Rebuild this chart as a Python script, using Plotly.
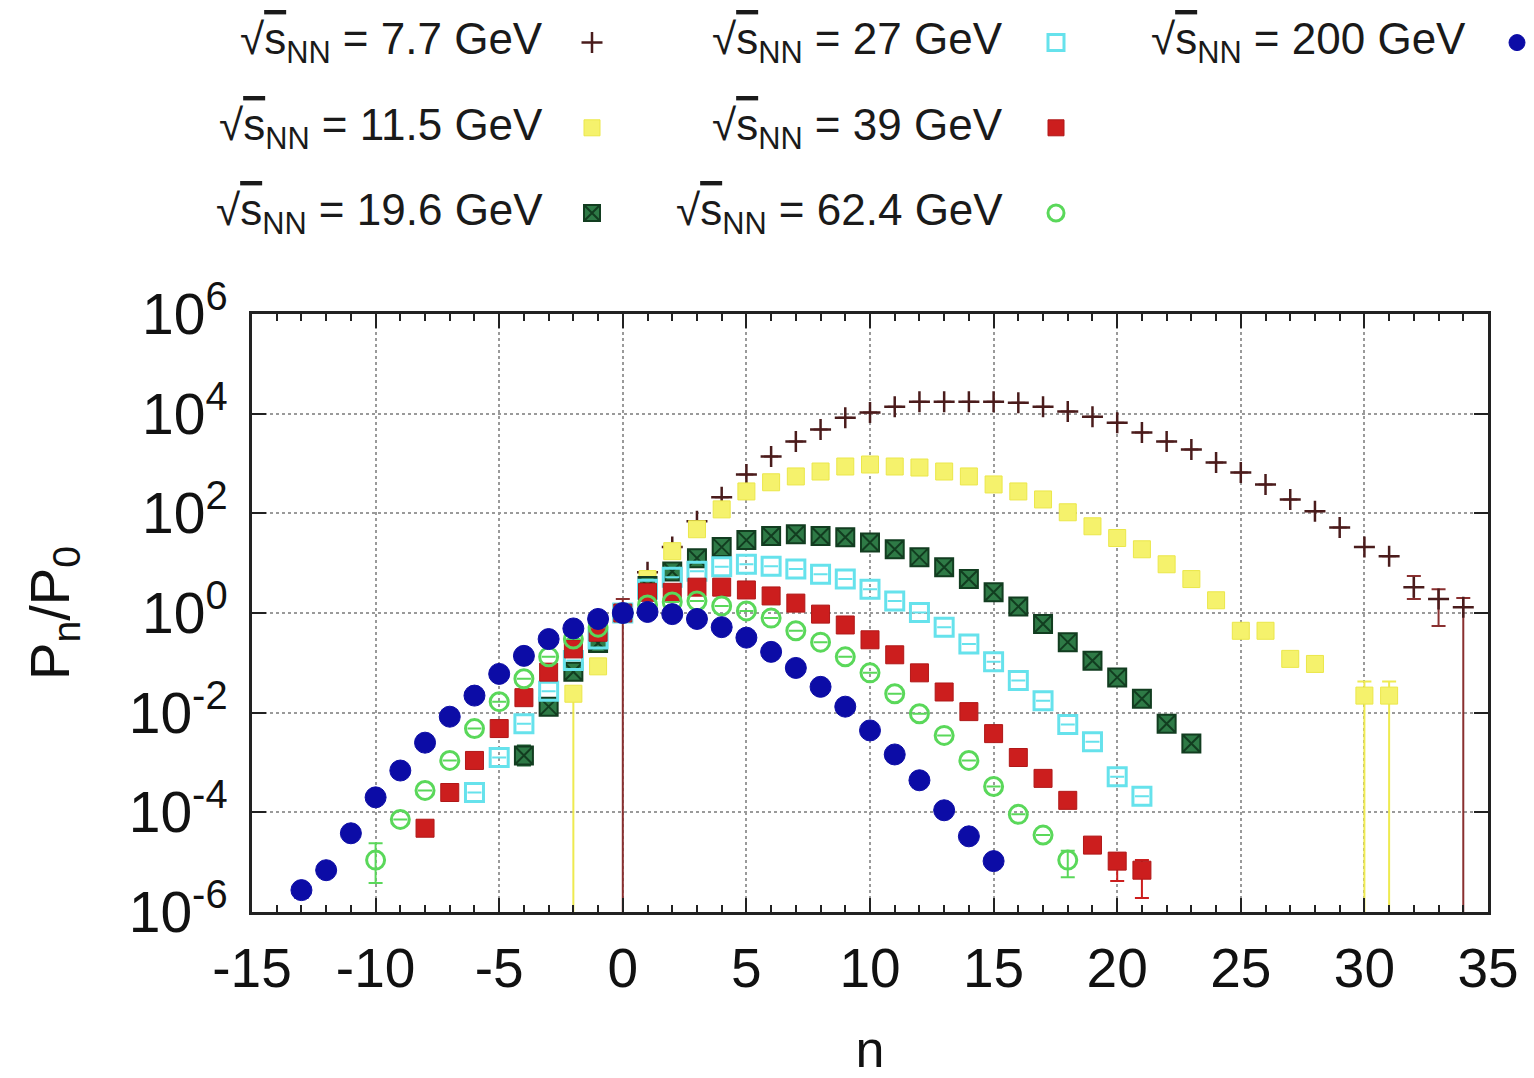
import plotly.graph_objects as go

# ---- data: P_n / P_0 versus net-proton number n, per collision energy ----
N_7P7 = list(range(0, 35))
P_7P7 = [1.0, 6.6, 21, 69, 210, 600, 1380, 2750, 4800, 8300, 10500, 13800, 17400, 17400,
         17400, 17400, 16600, 13800, 11000, 8700, 6600, 4200, 2750, 1900, 1050, 660, 380,
         190, 110, 52, 21, 13.8, 3.3, 1.9, 1.3]
# error bounds (low, high) where visible; low = 0 means unbounded below
ERR_7P7 = {0: (0.0, 1.9), 32: (1.9, 5.5), 33: (0.55, 3.0), 34: (0.0, 2.0)}

N_11P5 = list(range(-2, 29)) + [30, 31]
P_11P5 = [0.024, 0.085, 1.0, 4.8, 17.4, 48, 120, 275, 420, 550, 690, 870, 955, 870, 830,
          690, 550, 380, 275, 190, 105, 55, 32, 19, 9.5, 4.8, 1.8, 0.44, 0.44, 0.12, 0.095,
          0.022, 0.022]
ERR_11P5 = {-2: (0.0, 0.030), 30: (0.0, 0.042), 31: (0.0, 0.042)}

N_19P6 = list(range(-4, 24))
P_19P6 = [1.38e-3, 0.0132, 0.066, 0.25, 1.0, 3.5, 6.8, 12.6, 21, 29, 35, 38, 35, 33, 26,
          19, 13.2, 8.3, 4.8, 2.6, 1.35, 0.60, 0.26, 0.11, 0.051, 0.019, 6.0e-3, 2.4e-3]
ERR_19P6 = {-4: (0.87e-3, 2.2e-3)}

N_27 = list(range(-6, 22))
P_27 = [2.5e-4, 1.26e-3, 6.0e-3, 0.027, 0.112, 0.30, 1.0, 3.0, 5.2, 6.9, 8.5, 9.5, 8.7,
        7.6, 6.0, 4.8, 3.0, 1.74, 1.02, 0.52, 0.24, 0.105, 0.044, 0.0174, 5.8e-3, 2.6e-3,
        5.2e-4, 2.1e-4]
ERR_27 = {}

N_39 = list(range(-8, 22))
P_39 = [4.8e-5, 2.5e-4, 1.1e-3, 4.8e-3, 0.020, 0.065, 0.19, 0.41, 1.0, 2.6, 2.6, 3.3, 3.3,
        2.9, 2.2, 1.58, 0.95, 0.575, 0.29, 0.145, 0.063, 0.026, 0.0105, 3.8e-3, 1.26e-3,
        4.8e-4, 1.74e-4, 2.2e-5, 1.05e-5, 6.9e-6]
ERR_39 = {20: (4.2e-6, 1.5e-5), 21: (1.9e-6, 1.1e-5)}

N_62P4 = list(range(-10, 19))
P_62P4 = [1.1e-5, 7.2e-5, 2.75e-4, 1.1e-3, 4.8e-3, 0.0166, 0.048, 0.132, 0.30, 0.52, 1.0,
          1.45, 1.66, 1.74, 1.38, 1.10, 0.79, 0.44, 0.26, 0.132, 0.063, 0.024, 9.5e-3,
          3.5e-3, 1.1e-3, 3.3e-4, 9.1e-5, 3.5e-5, 1.1e-5]
ERR_62P4 = {-10: (3.8e-6, 2.4e-5), 18: (5.0e-6, 1.7e-5)}

N_200 = list(range(-13, 16))
P_200 = [2.75e-6, 6.9e-6, 3.8e-5, 2.0e-4, 6.9e-4, 2.5e-3, 8.3e-3, 0.022, 0.060, 0.138, 0.30,
         0.49, 0.76, 1.0, 1.05, 0.95, 0.76, 0.52, 0.32, 0.166, 0.079, 0.033, 0.0132, 4.4e-3,
         1.45e-3, 4.4e-4, 1.1e-4, 3.3e-5, 1.05e-5]
ERR_200 = {-13: (1.9e-6, 3.6e-6)}

ENERGIES = ["7.7", "11.5", "19.6", "27", "39", "62.4", "200"]
SERIES_N = [N_7P7, N_11P5, N_19P6, N_27, N_39, N_62P4, N_200]
SERIES_P = [P_7P7, P_11P5, P_19P6, P_27, P_39, P_62P4, P_200]
SERIES_ERR = [ERR_7P7, ERR_11P5, ERR_19P6, ERR_27, ERR_39, ERR_62P4, ERR_200]

X_TICKS = [-15, -10, -5, 0, 5, 10, 15, 20, 25, 30, 35]
Y_TICK_EXP = [-6, -4, -2, 0, 2, 4, 6]

# ---- styling ----
FONT = "Liberation Sans"
STYLES = [
    dict(symbol="cross-thin", color="#4a1c1c", line=dict(color="#4a1c1c", width=2.5), size=15, err="#8a3030"),
    dict(symbol="square", color="#f5f26c", line=dict(color="#ebe74a", width=1), size=17, err="#eeea50"),
    dict(symbol="square-x", color="#2e7a46", line=dict(color="#123d20", width=2), size=18, err="#1e5e32"),
    dict(symbol="square-open", color="#66e2ec", line=dict(color="#66e2ec", width=3), size=18, err="#66e2ec"),
    dict(symbol="square", color="#cc1e1e", line=dict(color="#b01818", width=1), size=18, err="#cc1e1e"),
    dict(symbol="circle-open", color="#5ad85a", line=dict(color="#5ad85a", width=3), size=18, err="#5ad85a"),
    dict(symbol="circle", color="#0c0ca6", line=dict(color="#0c0ca6", width=1), size=21, err="#0c0ca6"),
]
LEGEND_OF = ["legend", "legend", "legend", "legend2", "legend2", "legend2", "legend3"]

# plot area in pixels (for placing the key around it)
L, R, T, B = 252, 1488, 314, 912
W, H = 1534, 1078


def px_x(p):
    return (p - L) / (R - L)


def px_y(p):
    return (B - p) / (B - T)


fig = go.Figure()
for energy, ns, ps, errs, st, lg in zip(ENERGIES, SERIES_N, SERIES_P, SERIES_ERR, STYLES, LEGEND_OF):
    plus, minus = [], []
    for n, p in zip(ns, ps):
        if n in errs:
            lo, hi = errs[n]
            plus.append(hi - p)
            minus.append(p - lo)
        else:
            plus.append(None)
            minus.append(None)
    fig.add_trace(go.Scatter(
        x=ns, y=ps, mode="markers", name=" ",
        legend=lg, legendgroup=energy,
        hovertext=f"√s_NN = {energy} GeV",
        marker=dict(symbol=st["symbol"], size=st["size"], color=st["color"], line=st["line"]),
        error_y=dict(type="data", array=plus, arrayminus=minus, symmetric=False,
                     color=st["err"], thickness=2, width=7),
    ))

# key labels (right-aligned, sample glyph to the right of each)
KEY_TEXT_RIGHT = [545, 545, 545, 1005, 1005, 1005, 1468]
KEY_ROW_Y = [42, 128, 213, 42, 128, 213, 42]
for energy, xr, yr in zip(ENERGIES, KEY_TEXT_RIGHT, KEY_ROW_Y):
    fig.add_annotation(
        xref="paper", yref="paper", x=px_x(xr), y=px_y(yr),
        xanchor="right", yanchor="middle", showarrow=False,
        text=f"√<span style='text-decoration:overline'>s</span><sub>NN</sub> = {energy} GeV",
        font=dict(family=FONT, size=44, color="#1a1a1a"),
    )

legend_common = dict(
    orientation="v", bgcolor="rgba(0,0,0,0)", borderwidth=0,
    font=dict(family=FONT, size=14), tracegroupgap=64,
    xref="paper", yref="paper", xanchor="left", yanchor="top", itemwidth=30,
)

axis_common = dict(
    showline=True, linewidth=3, linecolor="#222", mirror="allticks",
    ticks="inside", ticklen=14, tickwidth=2, tickcolor="#222",
    showgrid=True, gridcolor="#9a9a9a", griddash="dot", gridwidth=1.5,
    zeroline=False,
)

fig.update_layout(
    width=W, height=H,
    margin=dict(l=L, r=W - R, t=T, b=H - B, autoexpand=False),
    paper_bgcolor="white", plot_bgcolor="white",
    font=dict(family=FONT, color="#111"),
    legend=dict(legend_common, x=px_x(572), y=px_y(27)),
    legend2=dict(legend_common, x=px_x(1036), y=px_y(27)),
    legend3=dict(legend_common, x=px_x(1497), y=px_y(27)),
    xaxis=dict(axis_common, range=[-15, 35], tickvals=X_TICKS,
               ticktext=[str(v) for v in X_TICKS],
               tickfont=dict(family=FONT, size=55, color="#111"),
               minor=dict(dtick=1, tick0=-15, ticks="inside", ticklen=7, tickwidth=2,
                          tickcolor="#222", showgrid=False),
               title=dict(text="n", font=dict(family=FONT, size=52), standoff=52),
               ticklabelstandoff=6),
    yaxis=dict(axis_common, type="log", range=[-6, 6],
               tickvals=[10.0 ** e for e in Y_TICK_EXP],
               ticktext=[f"10<sup>{e}</sup>" for e in Y_TICK_EXP],
               tickfont=dict(family=FONT, size=57, color="#111"),
               title=dict(text="P<sub>n</sub>/P<sub>0</sub>", font=dict(family=FONT, size=56), standoff=42),
               ticklabelstandoff=10),
)

fig.write_html("out.html")
